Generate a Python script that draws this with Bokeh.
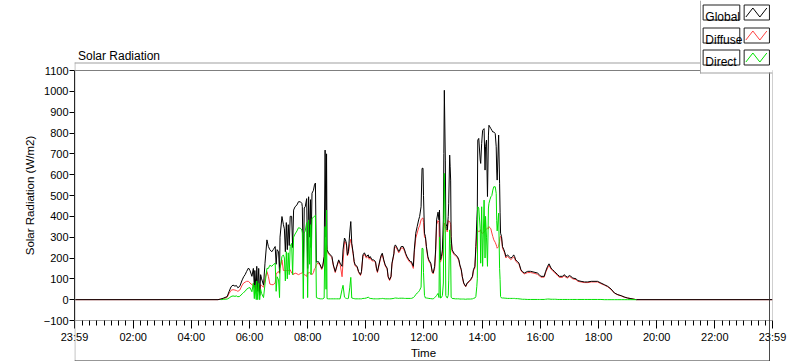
import numpy as np
from bokeh.plotting import figure
from bokeh.layouts import column
from bokeh.models import FixedTicker, Span, ColumnDataSource, Range1d, InlineStyleSheet
from bokeh.core.properties import value
from bokeh.embed import file_html
from bokeh.resources import INLINE

# ---------------- data (minutes after midnight, W/m2) ----------------
times_min = [
    -1, 295, 301, 307, 314, 318, 322, 326, 330, 333,
    336, 340, 345, 348, 351, 354, 358, 361, 365, 368,
    370, 371, 374, 375, 377, 379, 381, 383, 385, 389,
    392, 396, 399, 402, 406, 409, 413, 415, 417, 420,
    422, 423, 427, 430, 432, 434, 436, 438, 440, 442,
    444, 447, 449, 451, 454, 458, 461, 465, 468, 469,
    471, 473, 475, 478, 480, 482, 484, 486, 487, 489,
    492, 494, 496, 498, 502, 506, 509, 511, 514, 516,
    518, 519, 520, 523, 527, 530, 533, 537, 540, 544,
    547, 551, 553, 556, 558, 560, 562, 564, 567, 569,
    571, 574, 576, 578, 582, 585, 589, 591, 594, 597,
    601, 605, 607, 609, 613, 616, 620, 622, 624, 627,
    630, 632, 634, 637, 640, 644, 646, 649, 652, 654,
    658, 659, 661, 665, 668, 670, 673, 677, 680, 682,
    685, 689, 692, 694, 698, 700, 703, 706, 709, 711,
    714, 716, 718, 719, 721, 723, 725, 728, 730, 734,
    737, 739, 742, 744, 746, 749, 751, 752, 754, 756,
    758, 760, 761, 762, 764, 765, 767, 768, 770, 771,
    773, 774, 775, 776, 778, 782, 785, 789, 792, 794,
    797, 799, 802, 806, 809, 813, 816, 820, 822, 825,
    827, 829, 830, 831, 833, 836, 837, 839, 841, 844,
    846, 847, 849, 851, 853, 854, 856, 858, 860, 862,
    864, 867, 869, 870, 871, 874, 876, 877, 878, 880,
    882, 885, 887, 889, 892, 896, 899, 903, 905, 907,
    909, 913, 916, 920, 923, 927, 934, 940, 947, 954,
    958, 961, 968, 971, 975, 978, 982, 985, 989, 992,
    996, 999, 1006, 1009, 1013, 1016, 1020, 1023, 1027, 1034,
    1037, 1044, 1051, 1058, 1065, 1078, 1085, 1092, 1099, 1106,
    1113, 1120, 1127, 1133, 1140, 1147, 1158, 1439,
]
global_wm2 = [
    0, 0, 3, 8, 15, 40, 62, 70, 65, 68,
    57, 64, 95, 110, 120, 135, 152, 140, 112, 150,
    60, 140, 40, 160, 40, 150, 20, 120, 100, 70,
    175, 287, 255, 240, 230, 240, 255, 170, 240, 230,
    130, 300, 399, 360, 340, 230, 370, 240, 360, 260,
    400, 400, 250, 430, 446, 455, 470, 470, 462, 446,
    130, 440, 446, 485, 150, 494, 300, 480, 250, 511,
    525, 550, 560, 180, 183, 167, 150, 160, 207, 718,
    300, 700, 240, 225, 215, 207, 167, 135, 160, 191,
    175, 160, 239, 296, 287, 271, 215, 230, 325, 375,
    271, 223, 183, 167, 160, 135, 120, 135, 215, 225,
    207, 215, 200, 207, 191, 191, 183, 151, 135, 167,
    199, 215, 223, 191, 167, 151, 112, 96, 112, 175,
    223, 255, 263, 247, 231, 239, 255, 255, 239, 223,
    207, 191, 183, 183, 160, 239, 319, 351, 383, 399,
    446, 630, 631, 500, 319, 303, 255, 207, 191, 175,
    135, 128, 160, 239, 383, 420, 383, 430, 191, 207,
    239, 383, 702, 1005, 670, 367, 351, 335, 399, 463,
    694, 638, 574, 303, 239, 223, 215, 207, 191, 167,
    144, 112, 80, 64, 80, 88, 96, 112, 144, 160,
    255, 383, 431, 766, 774, 670, 654, 750, 813, 821,
    622, 734, 766, 495, 790, 837, 829, 821, 813, 805,
    805, 797, 734, 622, 574, 790, 558, 420, 319, 303,
    255, 239, 225, 207, 215, 207, 199, 207, 215, 207,
    191, 183, 175, 144, 135, 128, 136, 136, 132, 128,
    120, 112, 112, 136, 160, 172, 152, 144, 136, 128,
    120, 112, 112, 120, 112, 108, 116, 112, 104, 100,
    92, 88, 85, 85, 88, 88, 80, 72, 64, 51,
    32, 24, 19, 13, 8, 5, 0, 0,
]
diffuse_wm2 = [
    0, 0, 3, 6, 12, 30, 45, 48, 46, 44,
    40, 46, 70, 80, 84, 88, 88, 80, 72, 68,
    60, 66, 40, 64, 40, 70, 20, 72, 68, 60,
    100, 135, 112, 75, 72, 72, 80, 120, 130, 135,
    125, 152, 191, 140, 140, 140, 140, 138, 140, 140,
    144, 128, 130, 120, 128, 124, 120, 125, 128, 130,
    125, 120, 118, 112, 130, 128, 130, 125, 125, 120,
    130, 148, 152, 170, 175, 163, 145, 156, 200, 240,
    250, 263, 235, 220, 210, 203, 163, 130, 156, 186,
    170, 110, 180, 280, 275, 262, 210, 222, 270, 290,
    262, 215, 178, 162, 156, 131, 116, 131, 208, 218,
    200, 208, 194, 200, 186, 186, 178, 147, 130, 162,
    194, 210, 217, 186, 162, 147, 108, 92, 108, 170,
    217, 248, 255, 240, 225, 232, 248, 248, 232, 217,
    200, 185, 177, 177, 150, 225, 295, 320, 345, 355,
    383, 390, 392, 370, 300, 295, 248, 200, 185, 170,
    131, 124, 150, 225, 360, 380, 370, 230, 180, 195,
    220, 300, 340, 368, 350, 340, 335, 325, 380, 375,
    375, 370, 360, 290, 232, 217, 210, 202, 187, 163,
    140, 108, 77, 62, 77, 85, 92, 108, 138, 152,
    240, 320, 335, 330, 327, 330, 335, 320, 319, 325,
    330, 335, 340, 343, 340, 351, 345, 340, 320, 303,
    287, 275, 263, 255, 247, 255, 280, 300, 305, 295,
    247, 232, 218, 200, 208, 200, 192, 200, 206, 200,
    185, 177, 170, 140, 131, 124, 130, 130, 127, 122,
    115, 108, 108, 130, 152, 165, 147, 139, 131, 123,
    115, 107, 107, 115, 107, 104, 111, 107, 100, 96,
    88, 85, 82, 82, 85, 85, 77, 70, 62, 49,
    31, 23, 18, 12, 8, 5, 0, 0,
]
direct_wm2 = [
    None, None, 0, 2, 3, 8, 15, 18, 16, 18,
    14, 16, 28, 35, 40, 50, 56, 58, 38, 80,
    5, 70, 0, 90, 0, 78, 0, 50, 30, 10,
    75, 150, 150, 165, 160, 168, 175, 40, 110, 95,
    10, 150, 207, 215, 200, 90, 230, 100, 225, 120,
    255, 270, 120, 300, 315, 330, 345, 343, 335, 320,
    5, 320, 330, 370, 10, 383, 170, 360, 120, 390,
    395, 400, 405, 10, 6, 4, 4, 4, 8, 351,
    50, 430, 5, 4, 4, 4, 4, 4, 4, 4,
    4, 50, 69, 12, 8, 6, 5, 6, 60, 107,
    8, 6, 5, 4, 4, 4, 4, 4, 6, 6,
    8, 12, 8, 6, 5, 4, 4, 4, 4, 4,
    5, 5, 6, 5, 4, 4, 4, 4, 4, 5,
    6, 7, 8, 7, 6, 7, 7, 7, 6, 6,
    6, 6, 6, 6, 10, 14, 24, 32, 38, 45,
    60, 247, 245, 130, 20, 8, 8, 7, 6, 5,
    4, 4, 10, 14, 20, 30, 10, 300, 8, 10,
    20, 80, 400, 606, 330, 20, 10, 8, 20, 90,
    335, 270, 210, 12, 6, 5, 4, 4, 4, 3,
    3, 3, 3, 2, 3, 3, 3, 4, 6, 8,
    15, 64, 100, 446, 440, 340, 175, 446, 160, 478,
    200, 400, 300, 160, 440, 462, 480, 494, 500, 526,
    542, 542, 510, 380, 330, 415, 150, 96, 15, 8,
    8, 8, 7, 7, 6, 6, 6, 6, 6, 6,
    5, 5, 4, 3, 2, 2, 1, 1, 1, 1,
    1, 1, 1, 2, 3, 3, 2, 2, 2, 2,
    1, 1, 1, 1, 1, 1, 1, 1, 1, 1,
    1, 1, 1, 1, 1, 1, 1, 0, 0, 0,
    0, 0, 0, 0, 0, 0, 0, None,
]
assert len(times_min) == len(global_wm2) == len(diffuse_wm2) == len(direct_wm2)

series_names = ["Global", "Diffuse", "Direct"]
series_colors = ["#000000", "#ff4040", "#00e000"]
y_ticks = list(range(-100, 1101, 100))
x_tick_minutes = [-1, 120, 240, 360, 480, 600, 720, 840, 960, 1080, 1200, 1320, 1439]
x_tick_labels = ["23:59", "02:00", "04:00", "06:00", "08:00", "10:00", "12:00",
                 "14:00", "16:00", "18:00", "20:00", "22:00", "23:59"]
chart_title = "Solar Radiation"

FONT = "Liberation Sans"

W, H = 800, 361

source = ColumnDataSource(data=dict(
    t=np.array(times_min, dtype=float),
    g=np.array(global_wm2, dtype=float),
    d=np.array(diffuse_wm2, dtype=float),
    r=np.array([np.nan if v is None else v for v in direct_wm2], dtype=float),
))

crisp = InlineStyleSheet(css="path, line, rect, polyline { shape-rendering: crispEdges; }")

# ---------------- main chart ----------------
p = figure(width=W, height=H, x_range=(-1, 1439), y_range=(-100, 1100),
           output_backend="svg", toolbar_location=None,
           min_border_left=74, min_border_right=28, min_border_top=70, min_border_bottom=39,
           background_fill_color="white", border_fill_color="white",
           outline_line_color=None)
p.xgrid.visible = False
p.ygrid.visible = False
p.stylesheets = [crisp]

p.line("t", "d", source=source, line_color=series_colors[1], line_width=1)
p.line("t", "g", source=source, line_color=series_colors[0], line_width=1)
p.line("t", "r", source=source, line_color=series_colors[2], line_width=1)

xa = p.xaxis[0]
xa.ticker = FixedTicker(ticks=x_tick_minutes, minor_ticks=list(range(15, 1439, 15)))
xa.major_label_overrides = {t: l for t, l in zip(x_tick_minutes, x_tick_labels)}
xa.axis_line_color = "#a0a0a0"
xa.major_tick_out = 8
xa.major_tick_in = 0
xa.minor_tick_out = 5
xa.minor_tick_in = 0
xa.major_tick_line_color = "black"
xa.minor_tick_line_color = "black"
xa.major_label_standoff = 2
xa.axis_label = "Time"
xa.axis_label_standoff = 1

ya = p.yaxis[0]
ya.ticker = FixedTicker(ticks=y_ticks, minor_ticks=[])
ya.axis_line_color = "black"
ya.major_tick_out = 5
ya.major_tick_in = 0
ya.minor_tick_line_color = None
ya.major_tick_line_color = "black"
ya.major_label_standoff = 1
ya.axis_label = "Solar Radiation (W/m2)"
ya.axis_label_standoff = 5

for ax in (xa, ya):
    ax.major_label_text_font = FONT
    ax.major_label_text_font_size = "11px"
    ax.major_label_text_color = "black"
    ax.axis_label_text_font = FONT
    ax.axis_label_text_font_size = "11.5px"
    ax.axis_label_text_font_style = "normal"
    ax.axis_label_text_color = "black"

# frame top (black) and right (gray) edges
p.add_layout(Span(location=1100, dimension="width", line_color="black", line_width=1))
p.add_layout(Span(location=1439, dimension="height", line_color="#a0a0a0", line_width=1))

# ---------------- overlay: caption, panel border and legend (pixel space) ----------------
ov = figure(width=W, height=H, x_range=Range1d(0, W), y_range=Range1d(H, 0),
            output_backend="svg", toolbar_location=None, min_border=0,
            x_axis_location=None, y_axis_location=None,
            background_fill_alpha=0.0, border_fill_alpha=0.0, outline_line_color=None)
ov.xgrid.visible = False
ov.ygrid.visible = False
ov.styles = {"margin-top": f"-{H}px"}

# outer panel border (3D look): top/left gray, bottom/right dark
ov.quad(left=[0, 0, 0, 796], right=[797, 1, 797, 797],
        top=[62, 62, 360, 62], bottom=[63, 361, 361, 361],
        fill_color=["#a0a0a0", "#a0a0a0", "#303030", "#303030"], line_color=None)

# caption
ov.text(x=[4], y=[55], text=[chart_title], text_font=value(FONT), text_font_size="12px",
        text_color="black", text_baseline="alphabetic", text_align="left")

# legend panel
ov.quad(left=[717], right=[800], top=[0], bottom=[72], fill_color="white", line_color=None)
ov.quad(left=[717, 717], right=[718, 800], top=[0, 72], bottom=[73, 73],
        fill_color="#a0a0a0", line_color=None)

box_tops = [4, 27, 49]
ov.quad(left=[720.5] * 3, right=[762.5] * 3,
        top=[t + 0.5 for t in box_tops], bottom=[t + 15.5 for t in box_tops],
        fill_color="white", line_color="#202020", line_width=1)
ov.quad(left=[767.5] * 3, right=[796.5] * 3,
        top=[t + 0.5 for t in box_tops], bottom=[t + 15.5 for t in box_tops],
        fill_color="white", line_color="#202020", line_width=1)
ov.text(x=[723] * 3, y=[t + 12.5 for t in box_tops], text=series_names,
        text_font=value(FONT), text_font_size="12px", text_color="black",
        text_baseline="alphabetic", text_align="left")
ov.multi_line(xs=[[769.5, 777.5, 785.5, 793.5] for _ in box_tops],
              ys=[[t + 12.5, t + 3.5, t + 12.5, t + 3.5] for t in box_tops],
              line_color=series_colors, line_width=1)

layout = column(p, ov)
open("out.html", "w").write(file_html(layout, INLINE))
